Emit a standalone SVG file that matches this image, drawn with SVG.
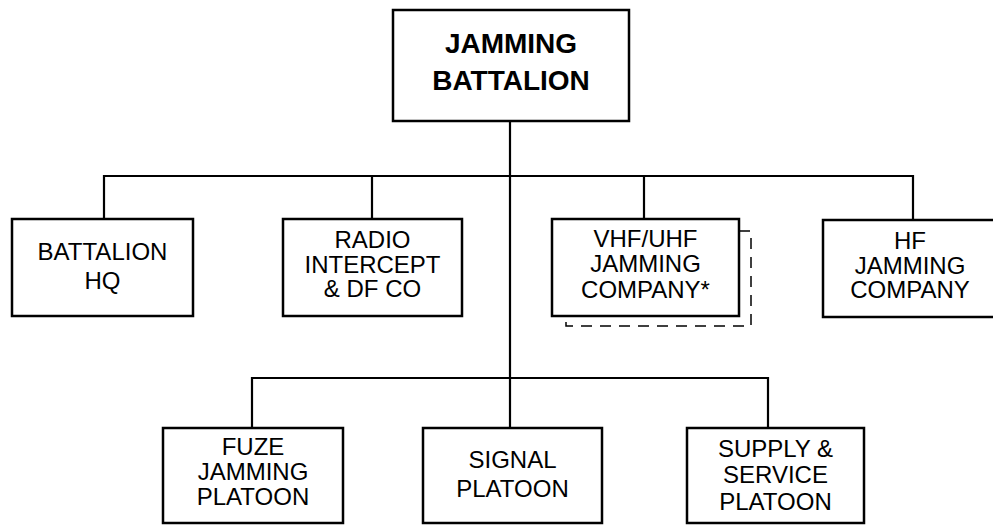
<svg xmlns="http://www.w3.org/2000/svg" width="993" height="525" viewBox="0 0 993 525">
<style>
.box{fill:#fff;stroke:#000;stroke-width:2.5}
.ln{fill:none;stroke:#000;stroke-width:2.2}
.dash{fill:none;stroke:#000;stroke-width:1.5;stroke-dasharray:11 8}
text{font-family:"Liberation Sans",Arial,sans-serif;font-size:24px;text-anchor:middle;fill:#000}
.b{font-weight:bold;font-size:28px}
</style>
<rect width="993" height="525" fill="#fff"/>
<g id="connectors">
<path class="ln" d="M510,121 V428"/>
<path class="ln" d="M104,219 V176 H913 V219"/>
<path class="ln" d="M372,176 V219 M644,176 V219"/>
<path class="ln" d="M252,428 V378 H768 V428"/>
</g>
<g id="jamming-battalion">
<rect class="box" x="393" y="10" width="236" height="111"/>
<text class="b" x="511" y="53">JAMMING</text>
<text class="b" x="511" y="90">BATTALION</text>
</g>
<g id="battalion-hq">
<rect class="box" x="12" y="219" width="181" height="97"/>
<text x="102.5" y="260">BATTALION</text>
<text x="102.5" y="289">HQ</text>
</g>
<g id="radio-intercept">
<rect class="box" x="283" y="219" width="179" height="97"/>
<text x="372.5" y="248">RADIO</text>
<text x="372.5" y="273">INTERCEPT</text>
<text x="372.5" y="297">&amp; DF CO</text>
</g>
<g id="vhf-uhf">
<path class="dash" d="M739,231 H751 V326 H566 V316"/>
<rect class="box" x="552" y="219" width="187" height="97"/>
<text x="645.5" y="247">VHF/UHF</text>
<text x="645.5" y="272">JAMMING</text>
<text x="645.5" y="298">COMPANY*</text>
</g>
<g id="hf-jamming">
<rect class="box" x="823" y="220" width="180" height="97"/>
<text x="910" y="249">HF</text>
<text x="910" y="274">JAMMING</text>
<text x="910" y="298">COMPANY</text>
</g>
<g id="fuze-jamming">
<rect class="box" x="163" y="428" width="180" height="95"/>
<text x="253" y="455">FUZE</text>
<text x="253" y="480">JAMMING</text>
<text x="253" y="505">PLATOON</text>
</g>
<g id="signal">
<rect class="box" x="423" y="428" width="179" height="95"/>
<text x="512.5" y="468">SIGNAL</text>
<text x="512.5" y="497">PLATOON</text>
</g>
<g id="supply-service">
<rect class="box" x="687" y="428" width="177" height="95"/>
<text x="775.5" y="457">SUPPLY &amp;</text>
<text x="775.5" y="483">SERVICE</text>
<text x="775.5" y="510">PLATOON</text>
</g>
</svg>
